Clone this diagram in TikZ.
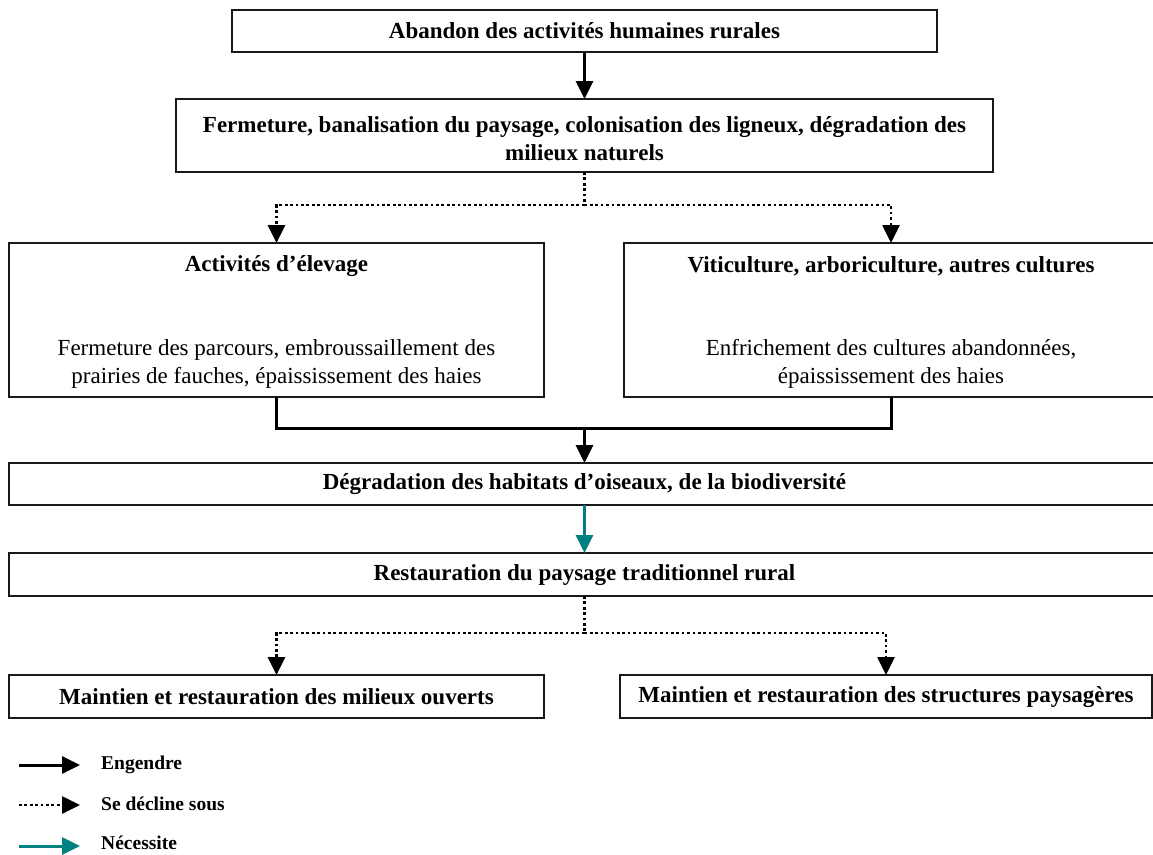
\documentclass[tikz,border=0pt]{standalone}
\usepackage{fontspec}
\setmainfont{Liberation Serif}
\usetikzlibrary{arrows.meta}
\definecolor{tealc}{RGB}{0,128,128}
\begin{document}
\begin{tikzpicture}[x=1pt,y=-1pt,
  box/.style={draw=black!90,line width=1.3pt,inner sep=0pt,outer sep=0pt,rectangle},
  btxt/.style={font=\fontsize{23}{28}\selectfont\bfseries,align=center,inner sep=0pt},
  rtxt/.style={font=\fontsize{23}{28}\selectfont,align=center,inner sep=0pt},
  ltxt/.style={font=\fontsize{19.5}{23}\selectfont\bfseries,anchor=west,inner sep=0pt},
  tip/.style={-{Triangle[length=18pt,width=17pt]}},
  solidc/.style={line width=3pt,black},
  dotc/.style={line width=2.7pt,black,dash pattern=on 2.7pt off 2.7pt},
  tealln/.style={line width=3pt,tealc},
  tealtip/.style={-{Triangle[length=18pt,width=17pt]}}
]
\clip (0,0) rectangle (1153,854);
\fill[white] (0,0) rectangle (1153,854);

% boxes
\node[box,minimum width=705pt,minimum height=42pt] (b1) at (584.5,31) {};
\node[btxt] (t1) at (584.5,31) {Abandon des activités humaines rurales};

\node[box,minimum width=817pt,minimum height=73pt] (b2) at (584.5,135.5) {};
\node[btxt] (t2) at (584.5,138.5) {Fermeture, banalisation du paysage, colonisation des ligneux, dégradation des\\milieux naturels};

\node[box,minimum width=535pt,minimum height=154pt] (b3) at (276.5,320) {};
\node[btxt] (t3a) at (276.5,266) {Activités d’élevage};
\node[rtxt] (t3b) at (276.5,364) {Fermeture des parcours, embroussaillement des\\prairies de fauches, épaississement des haies};

\node[box,minimum width=534pt,minimum height=154pt] (b4) at (891,320) {};
\node[btxt] (t4a) at (891,266) {Viticulture, arboriculture, autres cultures};
\node[rtxt] (t4b) at (891,364) {Enfrichement des cultures abandonnées,\\épaississement des haies};

\node[box,minimum width=1151pt,minimum height=42pt] (b5) at (584.5,484) {};
\node[btxt] (t5) at (584.5,484) {Dégradation des habitats d’oiseaux, de la biodiversité};

\node[box,minimum width=1151pt,minimum height=43pt] (b6) at (584.5,574.5) {};
\node[btxt] (t6) at (584.5,575) {Restauration du paysage traditionnel rural};

\node[box,minimum width=535pt,minimum height=43pt] (b7) at (276.5,696.5) {};
\node[btxt] (t7) at (276.5,697) {Maintien et restauration des milieux ouverts};

\node[box,minimum width=532pt,minimum height=43pt] (b8) at (886,696.5) {};
\node[btxt] (t8) at (886,697) {Maintien et restauration des structures paysagères};

% junctions
\coordinate (j1) at (584.5,205);
\coordinate (j2) at (584.5,428);
\coordinate (j3) at (584.5,633);

% connectors
\draw[solidc,tip] (b1.south) -- (b2.north);
\draw[dotc] (b2.south) -- (j1);
\draw[dotc,tip] (j1) -| (b3.north);
\draw[dotc,tip] (j1) -| (b4.north);
\draw[solidc] (b3.south) |- (j2);
\draw[solidc] (b4.south) |- (j2);
\draw[solidc,tip] (j2) -- (b5.north);
\draw[tealln,tealtip] (b5.south) -- (b6.north);
\draw[dotc] (b6.south) -- (j3);
\draw[dotc,tip] (j3) -| (b7.north);
\draw[dotc,tip] (j3) -| (b8.north);

% legend
\coordinate (la1) at (19,765);
\coordinate (lb1) at (80,765);
\coordinate (la2) at (19,805);
\coordinate (lb2) at (80,805);
\coordinate (la3) at (19,846);
\coordinate (lb3) at (80,846);
\draw[solidc,tip] (la1) -- (lb1);
\draw[dotc,tip] (la2) -- (lb2);
\draw[tealln,tealtip] (la3) -- (lb3);
\node[ltxt] (l1) at (101,765) {Engendre};
\node[ltxt] (l2) at (101,804) {Se décline sous};
\node[ltxt] (l3) at (101,843) {Nécessite};
\end{tikzpicture}
\end{document}
